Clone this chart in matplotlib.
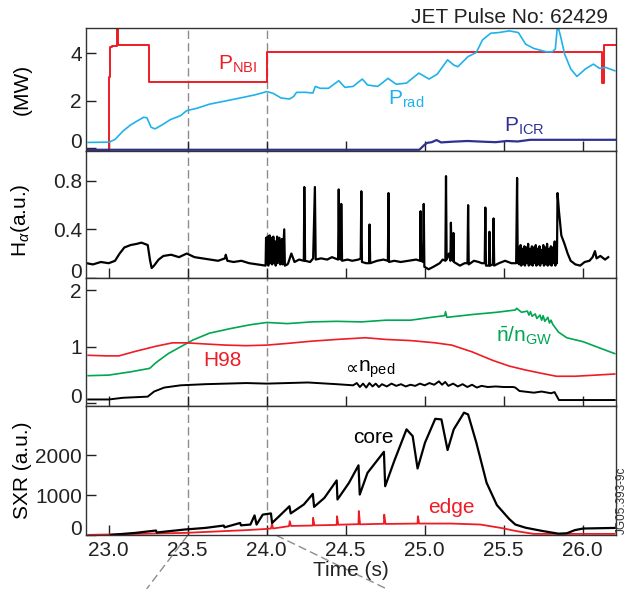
import numpy as np
import matplotlib
matplotlib.use('Agg')
import matplotlib.pyplot as plt
from matplotlib.transforms import blended_transform_factory

plt.rcParams['font.family'] = ['Liberation Sans', 'DejaVu Sans']
plt.rcParams['mathtext.fontset'] = 'custom'
plt.rcParams['mathtext.rm'] = 'Liberation Sans'
plt.rcParams['mathtext.it'] = 'Liberation Sans:italic'

# ---- panel 1 : powers (MW)
t_nbi = [22.85, 23.00, 23.008, 23.018, 23.052, 23.059, 23.252, 24.001, 26.125, 26.132, 26.25]
p_nbi = [-0.07, 3.0, 4.25, 4.3, 5.6, 4.35, 2.8, 4.07, 2.75, 4.35, 4.35]

t_rad = [22.87, 23.0, 23.039, 23.091, 23.137, 23.182, 23.221, 23.242, 23.268, 23.293,
         23.338, 23.39, 23.455, 23.494, 23.559, 23.637, 23.741, 23.845, 23.923, 24.001,
         24.04, 24.092, 24.144, 24.17, 24.189, 24.248, 24.292, 24.308, 24.339, 24.391,
         24.456, 24.495, 24.547, 24.605, 24.638, 24.703, 24.768, 24.82, 24.885, 24.963,
         25.028, 25.08, 25.145, 25.184, 25.21, 25.275, 25.327, 25.366, 25.418, 25.47,
         25.535, 25.593, 25.639, 25.691, 25.769, 25.808, 25.827, 25.841, 25.86, 25.886,
         25.925, 25.964, 26.016, 26.068, 26.107, 26.146, 26.203]
p_rad = [0.24, 0.25, 0.36, 0.72, 0.97, 1.15, 1.3, 1.28, 0.88, 0.81,
         0.98, 1.2, 1.37, 1.58, 1.68, 1.85, 1.99, 2.13, 2.24, 2.38,
         2.31, 2.11, 2.07, 2.17, 2.35, 2.35, 2.32, 2.6, 2.52, 2.52,
         2.84, 2.56, 2.6, 2.91, 2.66, 2.6, 2.94, 2.69, 2.74, 3.16,
         2.91, 3.12, 3.72, 3.5, 3.43, 3.86, 4.03, 4.56, 4.84, 4.87,
         4.94, 4.87, 4.38, 4.2, 4.06, 4.06, 4.17, 5.2, 4.72, 3.96,
         3.33, 3.02, 3.33, 3.54, 3.36, 3.4, 3.26]

t_icr = [22.85, 24.966, 24.996, 25.015, 25.045, 25.075, 25.104, 25.174, 25.272, 25.371,
         25.45, 25.519, 25.589, 25.668, 25.766, 26.21]
p_icr = [-0.07, -0.07, 0.12, 0.22, 0.25, 0.34, 0.24, 0.27, 0.3, 0.27,
         0.25, 0.3, 0.28, 0.35, 0.35, 0.35]

# ---- panel 2 : H-alpha (a.u.)
t_ha = [22.86, 22.9, 22.95, 23.0, 23.04, 23.069, 23.099, 23.138, 23.178, 23.207,
        23.247, 23.262, 23.272, 23.287, 23.316, 23.346, 23.395, 23.445, 23.494, 23.543,
        23.593, 23.642, 23.692, 23.736, 23.741, 23.751, 23.79, 23.84, 23.889, 23.939,
        23.988,
        23.993, 23.996, 24.0, 24.006, 24.01, 24.018, 24.022, 24.03, 24.034, 24.042,
        24.046, 24.053, 24.057, 24.066, 24.07, 24.081, 24.085, 24.096, 24.1, 24.111,
        24.115, 24.131,
        24.136, 24.156, 24.176, 24.205, 24.235, 24.238, 24.243, 24.275, 24.294, 24.305,
        24.31, 24.344, 24.383, 24.413, 24.452, 24.456, 24.46, 24.469, 24.472, 24.477,
        24.512, 24.541, 24.581, 24.595, 24.599, 24.603, 24.63, 24.648, 24.651, 24.655,
        24.699, 24.739, 24.767, 24.771, 24.774, 24.808, 24.848, 24.897, 24.946, 24.971,
        24.974, 24.978, 24.99, 24.994, 24.998, 25.025, 25.055, 25.095, 25.114, 25.131,
        25.135, 25.139, 25.154, 25.163, 25.166, 25.17, 25.179, 25.182, 25.185, 25.223,
        25.253, 25.271, 25.275, 25.279, 25.312, 25.342, 25.361, 25.38, 25.384, 25.388,
        25.407, 25.41, 25.414, 25.432, 25.436, 25.44, 25.47, 25.509, 25.549, 25.579,
        25.585, 25.589,
        25.595, 25.599, 25.607, 25.611, 25.619, 25.623, 25.631, 25.635, 25.643, 25.647,
        25.655, 25.659, 25.667, 25.671, 25.679, 25.683, 25.691, 25.695, 25.703, 25.707,
        25.715, 25.719, 25.727, 25.731, 25.739, 25.743, 25.751, 25.755, 25.763, 25.767,
        25.775, 25.779, 25.787, 25.791, 25.799, 25.803, 25.811, 25.815, 25.823, 25.827,
        25.833, 25.837,
        25.841, 25.85, 25.865, 25.885, 25.905, 25.924, 25.954, 25.984, 26.013, 26.043,
        26.063, 26.078, 26.088, 26.112, 26.142, 26.162]
ha = [0.12, 0.11, 0.13, 0.12, 0.14, 0.2, 0.25, 0.27, 0.28, 0.29,
      0.27, 0.14, 0.08, 0.1, 0.15, 0.18, 0.19, 0.17, 0.2, 0.17,
      0.16, 0.15, 0.14, 0.16, 0.19, 0.14, 0.13, 0.14, 0.12, 0.11,
      0.1,
      0.1, 0.33, 0.12, 0.34, 0.1, 0.35, 0.12, 0.33, 0.11, 0.34,
      0.12, 0.3, 0.1, 0.34, 0.12, 0.33, 0.11, 0.32, 0.11, 0.4,
      0.1, 0.11,
      0.12, 0.2, 0.13, 0.15, 0.14, 0.75, 0.14, 0.13, 0.16, 0.75,
      0.15, 0.16, 0.15, 0.17, 0.15, 0.73, 0.16, 0.15, 0.61, 0.14,
      0.15, 0.14, 0.15, 0.16, 0.715, 0.13, 0.12, 0.12, 0.44, 0.12,
      0.14, 0.15, 0.14, 0.7, 0.13, 0.14, 0.13, 0.14, 0.15, 0.14,
      0.55, 0.14, 0.13, 0.61, 0.09, 0.07, 0.09, 0.12, 0.15, 0.14,
      0.84, 0.15, 0.2, 0.14, 0.455, 0.18, 0.14, 0.37, 0.13, 0.1,
      0.12, 0.12, 0.6, 0.11, 0.14, 0.13, 0.12, 0.12, 0.58, 0.1,
      0.1, 0.38, 0.1, 0.11, 0.49, 0.1, 0.12, 0.14, 0.12, 0.12,
      0.825, 0.12,
      0.25, 0.11, 0.27, 0.1, 0.24, 0.11, 0.26, 0.1, 0.25, 0.12,
      0.28, 0.1, 0.24, 0.11, 0.26, 0.1, 0.25, 0.12, 0.27, 0.1,
      0.24, 0.11, 0.26, 0.1, 0.23, 0.12, 0.27, 0.1, 0.25, 0.11,
      0.28, 0.1, 0.24, 0.11, 0.26, 0.1, 0.25, 0.12, 0.3, 0.1,
      0.27, 0.12,
      0.7, 0.55, 0.35, 0.28, 0.2, 0.14, 0.11, 0.1, 0.13, 0.14,
      0.17, 0.22, 0.16, 0.18, 0.15, 0.17]

# ---- panel 3 : density, confinement
t_ngw = [22.87, 23.0, 23.143, 23.26, 23.299, 23.377, 23.455, 23.533, 23.637, 23.767,
         23.897, 24.001, 24.131, 24.287, 24.443, 24.599, 24.755, 24.911, 25.041, 25.127,
         25.132, 25.14, 25.301, 25.457, 25.574, 25.582, 25.613, 25.65, 25.66, 25.67,
         25.68, 25.7, 25.71, 25.73, 25.74, 25.75, 25.76, 25.78, 25.79, 25.8,
         25.81, 25.847, 25.899, 26.003, 26.107, 26.203]
ngw = [0.49, 0.5, 0.56, 0.62, 0.72, 0.88, 1.0, 1.12, 1.24, 1.32,
       1.39, 1.43, 1.41, 1.44, 1.45, 1.44, 1.47, 1.47, 1.52, 1.55,
       1.62, 1.52, 1.57, 1.61, 1.65, 1.68, 1.61, 1.63, 1.56, 1.62,
       1.54, 1.58, 1.5, 1.56, 1.47, 1.55, 1.45, 1.52, 1.42, 1.47,
       1.4, 1.26, 1.16, 1.09, 0.98, 0.88]

t_h98 = [22.87, 22.987, 23.065, 23.169, 23.299, 23.403, 23.494, 23.611, 23.741, 23.871,
         24.001, 24.131, 24.287, 24.443, 24.625, 24.755, 24.911, 25.067, 25.171, 25.301,
         25.431, 25.535, 25.639, 25.743, 25.834, 25.951, 26.081, 26.203]
h98 = [0.85, 0.84, 0.84, 0.92, 1.01, 1.07, 1.07, 1.05, 1.03, 1.02,
       1.03, 1.06, 1.1, 1.13, 1.16, 1.13, 1.11, 1.07, 1.03, 0.91,
       0.76, 0.66, 0.59, 0.53, 0.48, 0.48, 0.5, 0.52]

t_ped = [22.87, 23.0, 23.091, 23.247, 23.287, 23.351, 23.455, 23.611, 23.871, 24.001,
         24.261, 24.443, 24.547, 24.57, 24.59, 24.61, 24.63, 24.65, 24.67, 24.69,
         24.71, 24.73, 24.76, 24.79, 24.82, 24.85, 24.88, 24.91, 24.94, 24.97,
         25.0, 25.03, 25.06, 25.09, 25.11, 25.13, 25.15, 25.18, 25.21, 25.24,
         25.27, 25.3, 25.33, 25.36, 25.4, 25.45, 25.5, 25.56, 25.574, 25.6,
         25.691, 25.74, 25.8, 25.822, 25.85, 25.951, 26.203]
ped = [0.07, 0.07, 0.1, 0.12, 0.21, 0.28, 0.32, 0.34, 0.36, 0.35,
       0.37, 0.34, 0.32, 0.36, 0.29, 0.35, 0.28, 0.36, 0.3, 0.35,
       0.29, 0.34, 0.3, 0.35, 0.31, 0.34, 0.3, 0.33, 0.31, 0.35,
       0.32, 0.36, 0.33, 0.39, 0.33, 0.38, 0.31, 0.35, 0.3, 0.34,
       0.29, 0.33, 0.28, 0.31, 0.29, 0.3, 0.29, 0.29, 0.28, 0.22,
       0.19, 0.21, 0.18, 0.2, 0.06, 0.06, 0.06]

# ---- panel 4 : SXR (a.u.)
t_core = [23.013, 23.169, 23.299, 23.304, 23.481, 23.611, 23.728, 23.733, 23.832, 23.837,
          23.897, 23.923, 23.936, 23.975, 24.027, 24.034, 24.079, 24.144, 24.152, 24.235,
          24.292, 24.3, 24.365, 24.443, 24.448, 24.521, 24.581, 24.589, 24.638, 24.742,
          24.75, 24.807, 24.885, 24.924, 24.955, 25.002, 25.067, 25.106, 25.145, 25.184,
          25.249, 25.275, 25.327, 25.392, 25.457, 25.535, 25.574, 25.639, 25.743, 25.847,
          25.899, 25.951, 26.003, 26.203]
core = [0, 50, 110, 60, 135, 175, 235, 190, 300, 240,
        260, 490, 260, 510, 540, 300, 470, 720, 540, 765,
        1030, 705, 930, 1370, 890, 1310, 1750, 1015, 1560, 2090,
        1225, 1855, 2655, 2485, 1670, 2320, 2920, 2905, 2135, 2655,
        3075, 3030, 2320, 1310, 750, 400, 260, 180, 100, 30,
        40, 120, 160, 175]

t_edge = [22.87, 23.481, 23.871, 24.001, 24.027, 24.034, 24.04, 24.141, 24.146, 24.154,
          24.292, 24.294, 24.302, 24.443, 24.445, 24.453, 24.581, 24.583, 24.591, 24.742,
          24.744, 24.752, 24.955, 24.957, 24.965, 25.171, 25.353, 25.483, 25.587, 25.691,
          26.203]
edge = [0, 50, 120, 150, 160, 285, 160, 220, 345, 225,
        235, 430, 240, 250, 470, 255, 270, 600, 265, 280,
        510, 275, 285, 470, 285, 285, 260, 175, 90, 25,
        25]

xticks = [23.0, 23.5, 24.0, 24.5, 25.0, 25.5, 26.0]
RED = '#ee1c25'
CYAN = '#1fb2ea'
NAVY = '#2e3192'
GREEN = '#00a651'
GRID = '#8c8c8c'

fig = plt.figure(figsize=(6.44, 5.89), dpi=100)
L, W = 0.1335, 0.823
ax1 = fig.add_axes([L, 0.7441, W, 0.2079])
ax2 = fig.add_axes([L, 0.5285, W, 0.2156])
ax3 = fig.add_axes([L, 0.3112, W, 0.2173])
ax4 = fig.add_axes([L, 0.0912, W, 0.2200])

for ax in (ax1, ax2, ax3, ax4):
    ax.set_xlim(22.856, 26.211)
    ax.set_xticks(xticks)
    ax.tick_params(direction='in', length=7, width=1, labelsize=15,
                   colors='#222222', pad=3)
    ax.tick_params(axis='x', pad=4)
    for s in ax.spines.values():
        s.set_color('#333333')
        s.set_linewidth(1)
    for tv in (23.5, 24.0):
        ax.axvline(tv, color=GRID, lw=1, ls=(0, (6, 3)), zorder=0)
for ax in (ax1, ax2, ax3):
    ax.tick_params(labelbottom=False)

# panel 1
ax1.step(t_nbi, p_nbi, where='post', color=RED, lw=1.4)
ax1.plot(t_rad, p_rad, color=CYAN, lw=1.2)
ax1.plot(t_icr, p_icr, color=NAVY, lw=1.6)
ax1.set_ylim(-0.11, 5.05)
ax1.set_yticks([0, 2, 4])
ax1.text(23.69, 3.55, r'P$_{\mathrm{NBI}}$', color=RED, fontsize=15, va='center')
ax1.text(24.77, 2.05, r'P$_{\mathrm{rad}}$', color=CYAN, fontsize=15, va='center')
ax1.text(25.5, 0.9, r'P$_{\mathrm{ICR}}$', color=NAVY, fontsize=15, va='center')
ax1.set_ylabel('(MW)', fontsize=15)

# panel 2
ax2.plot(t_ha, ha, color='black', lw=1.6)
ax2.set_ylim(0.01, 1.05)
ax2.set_yticks([0, 0.4, 0.8])
ax2.set_yticklabels(['0', '0.4', '0.8'])
ax2.set_ylabel(r'H$_{\alpha}$(a.u.)', fontsize=15)

# panel 3
ax3.plot(t_ngw, ngw, color=GREEN, lw=1.2)
ax3.plot(t_h98, h98, color=RED, lw=1.2)
ax3.plot(t_ped, ped, color='black', lw=1.4)
ax3.set_ylim(-0.04, 2.22)
ax3.set_yticks([0, 1, 2])
ax3.text(25.45, 1.2, r'$\bar{\mathrm{n}}$/n$_{\mathrm{GW}}$', color=GREEN, fontsize=15, va='center')
ax3.text(23.6, 0.75, 'H98', color=RED, fontsize=15, va='center')
ax3.text(24.575, 0.6, '∝', color='black', fontsize=13, va='center', ha='right',
         family='DejaVu Sans')
ax3.text(24.575, 0.6, r'n$_{\mathrm{ped}}$', color='black', fontsize=15, va='center')

# panel 4
ax4.plot(t_edge, edge, color=RED, lw=1.3)
ax4.plot(t_core, core, color='black', lw=1.6)
ax4.set_ylim(-10, 3250)
ax4.set_yticks([0, 1000, 2000])
ax4.set_ylabel('SXR (a.u.)', fontsize=15)
ax4.text(24.55, 2450, 'core', color='black', fontsize=15, va='center')
ax4.text(25.02, 680, 'edge', color=RED, fontsize=15, va='center')
ax4.text(1.011, 0.27, 'JG05.393-9c', transform=ax4.transAxes, rotation=90,
         fontsize=8.5, color='#333333', ha='center', va='center')

# the "0" labels sit a little above their ticks in the original
for ax in (ax1, ax2, ax3, ax4):
    ax.get_yticklabels()[0].set_va('baseline')

for ax in (ax1, ax4):
    ax.yaxis.set_label_coords(-0.102, 0.5)
ax2.yaxis.set_label_coords(-0.102, 0.45)

# zoom connector lines below the time axis
tr = blended_transform_factory(ax4.transData, ax4.transAxes)
ax4.plot([23.5, 23.24], [0, -0.414], transform=tr, color=GRID, lw=1,
         ls=(0, (6, 3)), clip_on=False)
ax4.plot([24.06, 24.76], [0, -0.414], transform=tr, color=GRID, lw=1,
         ls=(0, (6, 3)), clip_on=False)

fig.text(0.545, 0.0306, 'Time (s)', fontsize=15, ha='center', va='center', color='#222222')
fig.text(0.944, 0.9615, 'JET Pulse No: 62429', fontsize=15, ha='right', va='baseline',
         color='#222222')

plt.savefig('out.png', dpi=100)
